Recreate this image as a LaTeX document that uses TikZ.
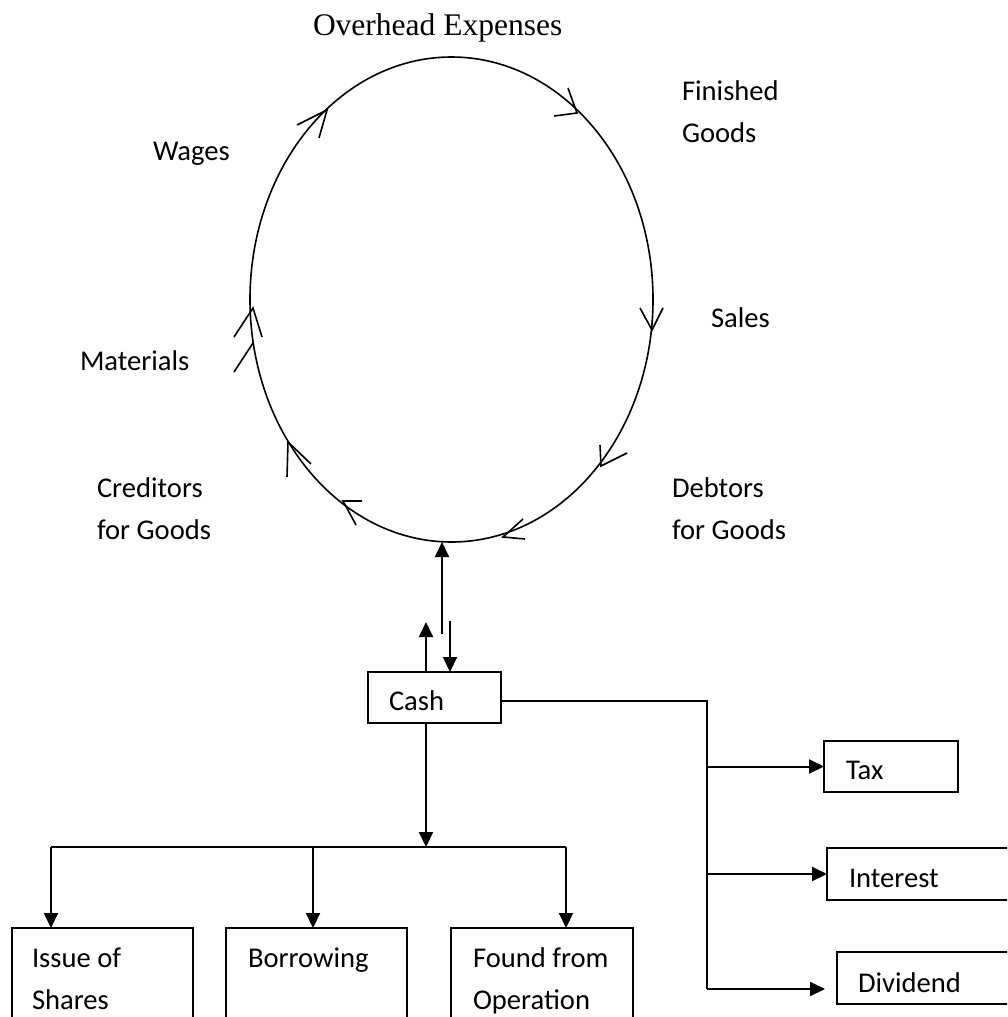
\documentclass[tikz,border=0pt]{standalone}
\usepackage{fontspec}
\setmainfont{Carlito}
\newfontfamily\timesfont{Liberation Serif}
\usetikzlibrary{shapes.geometric,arrows.meta}
\newcommand\natspace{\spaceskip=0pt\xspaceskip=0pt\relax}
\begin{document}
\begin{tikzpicture}[x=1pt,y=-1pt,
  txt/.style={font=\fontsize{28.6}{42}\selectfont, inner sep=0pt, outer sep=0pt},
  lbl/.style={txt, anchor=base west},
  mlbl/.style={txt, anchor=base west, align=left, text width=#1},
  box/.style={txt, draw, line width=2pt, anchor=north west, inner ysep=0pt, align=left},
  conn/.style={line width=2pt},
  arr/.style={line width=2pt, -{Triangle[length=15pt,width=14pt]}},
  chev/.style={line width=1.6pt, line join=miter}]
\useasboundingbox (0,0) rectangle (1007,1017);
\clip (0,0) rectangle (1007,1017);
% cycle
\node[draw, ellipse, line width=1.6pt, minimum width=403pt, minimum height=485pt, inner sep=0pt, outer sep=0pt] (cycle) at (451.5,299.5) {};
% chevrons along the cycle
\draw[chev] (297,125) -- (327,110) -- (319,138);
\draw[chev] (568,88) -- (577,113) -- (554,116);
\draw[chev] (640,308) -- (652,330) -- (663,308);
\draw[chev] (600,445) -- (601,466) -- (627,453);
\draw[chev] (523,519) -- (503,537) -- (525,539);
\draw[chev] (362,501) -- (343,501) -- (356,525);
\draw[chev] (311,464) -- (288,442) -- (287,477);
\draw[chev] (234,337) -- (253,308) -- (262,337);
\draw[chev] (234,372) -- (253,343);
% labels
\node[txt, anchor=base west, font=\timesfont\fontsize{31.5}{36}\selectfont] (overhead) at (313,35) {Overhead Expenses};
\node[mlbl=130pt] (finished) at (682,100) {\natspace Finished\\Goods};
\node[lbl] (wages) at (153,160) {Wages};
\node[lbl] (sales) at (711,327) {Sales};
\node[lbl] (materials) at (80,370) {Materials};
\node[mlbl=150pt] (creditors) at (97,497) {\natspace Creditors\\for Goods};
\node[mlbl=150pt] (debtors) at (672,497) {\natspace Debtors\\for Goods};
% boxes
\node[box, inner xsep=21pt, text width=91pt, text height=38pt, text depth=13pt] (cash) at (368,672) {Cash};
\node[box, inner xsep=22pt, text width=90pt, text height=38pt, text depth=13pt] (tax) at (824,741) {Tax};
\node[box, inner xsep=22pt, text width=141pt, text height=39pt, text depth=13pt] (interest) at (827,848) {Interest};
\node[box, inner xsep=21pt, text width=133pt, text height=40pt, text depth=12pt] (dividend) at (837,952) {Dividend};
\node[box, inner xsep=20pt, text width=141pt, text height=39pt, text depth=100pt] (issue) at (12,928) {\natspace Issue of\\Shares};
\node[box, inner xsep=22pt, text width=137pt, text height=39pt, text depth=100pt] (borrow) at (226,928) {Borrowing};
\node[box, inner xsep=22pt, text width=138pt, text height=39pt, text depth=100pt] (found) at (451,928) {\natspace\mbox{Found from}\\Operation};
% coordinates
\coordinate (upTip) at (426,622);
\coordinate (cycIn) at (442,634);
\coordinate (downTail) at (450,621);
\coordinate (busL) at (51,847);
\coordinate (busM) at (313,847);
\coordinate (busR) at (566,847);
\coordinate (trunkTop) at (707,701);
\coordinate (trunkBot) at (707,989);
\coordinate (divTip) at (825,989);
% connectors
\draw[arr] (upTip |- cash.north) -- (upTip);
\draw[arr] (cycIn) -- (cycIn |- cycle.south);
\draw[arr] (downTail) -- (downTail |- cash.north);
\draw[arr] (upTip |- cash.south) -- (upTip |- busL);
\draw[conn] (busL) -- (busR);
\draw[arr] (busL) -- (busL |- issue.north);
\draw[arr] (busM) -- (busM |- borrow.north);
\draw[arr] (busR) -- (busR |- found.north);
\draw[conn] (cash.east |- trunkTop) -- (trunkTop) -- (trunkBot);
\draw[arr] (trunkTop |- tax.west) -- (tax.west);
\draw[arr] (trunkTop |- interest.west) -- (interest.west);
\draw[arr] (trunkBot) -- (divTip);
\end{tikzpicture}
\end{document}
